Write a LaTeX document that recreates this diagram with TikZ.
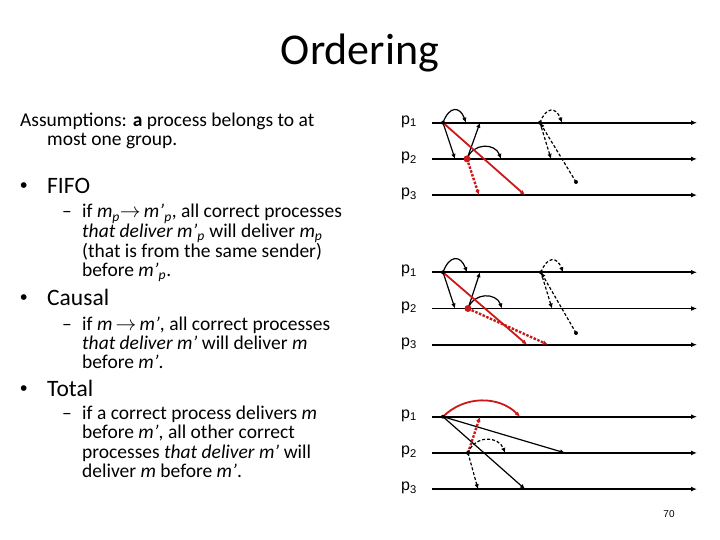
\documentclass[tikz,border=0pt]{standalone}
\usepackage{fontspec}
\setmainfont{Carlito}
\newfontfamily\plabelfont{Liberation Sans}
\usetikzlibrary{arrows.meta}
\definecolor{msgred}{RGB}{204,24,24}
\newcommand{\subp}{\textsubscript{\textit{p}}}

\tikzset{
  title/.style={anchor=base, inner sep=0pt, font=\fontsize{44}{50}\selectfont},
  body/.style={anchor=base west, inner sep=0pt, font=\fontsize{19.5}{20}\selectfont},
  head/.style={anchor=base west, inner sep=0pt, font=\fontsize{23.5}{26}\selectfont},
  bullet/.style={anchor=base west, inner sep=0pt, font=\plabelfont\fontsize{21}{22}\selectfont},
  plabel/.style={anchor=west, inner sep=0pt, font=\plabelfont\fontsize{16}{19}\selectfont},
  procline/.style={line width=1.8pt, -{Latex[length=6pt,width=5pt]}},
  msg/.style={line width=1.2pt, -{Latex[length=5pt,width=4.5pt]}},
  redmsg/.style={msg, msgred, line width=1.8pt},
  reddot/.style={msg, msgred, line width=2.4pt, dash pattern=on 2.5pt off 1.5pt},
  dashmsg/.style={msg, dash pattern=on 3pt off 2pt},
}

\begin{document}
\begin{tikzpicture}[x=1pt, y=-1pt]
    \useasboundingbox (0,0) rectangle (720,540);

    % Title
    \node[title] (title) at (360,65) {Ordering};

    % Text
    \node[body] (asm1) at (20,127) {Assumptions: \textbf{a} process belongs to at};
    \node[body] (asm2) at (47,146) {most one group.};

    \node[bullet] (fifob) at (20,193) {•};
    \node[head] (fifo) at (47,194) {FIFO};
    \node[body] (fifod) at (62,218) {--};
    \node[body] (fifo1) at (82,218) {if \textit{m}\subp$\rightarrow$\,\textit{m’}\subp, all correct processes};
    \node[body] (fifo2) at (82,237.5) {\textit{that deliver m’}\subp{} will deliver \textit{m}\subp};
    \node[body] (fifo3) at (82,257) {(that is from the same sender)};
    \node[body] (fifo4) at (82,276.5) {before \textit{m’}\subp.};

    \node[bullet] (causalb) at (20,304) {•};
    \node[head] (causal) at (47,305) {Causal};
    \node[body] (causald) at (62,330) {--};
    \node[body] (causal1) at (82,330) {if \textit{m}\,$\rightarrow$\,\textit{m’}, all correct processes};
    \node[body] (causal2) at (82,349) {\textit{that deliver m’} will deliver \textit{m}};
    \node[body] (causal3) at (82,368.5) {before \textit{m’}.};

    \node[bullet] (totalb) at (20,395) {•};
    \node[head] (total) at (47,396) {Total};
    \node[body] (totald) at (62,419) {--};
    \node[body] (total1) at (82,419) {if a correct process delivers \textit{m}};
    \node[body] (total2) at (82,438.5) {before \textit{m’}, all other correct};
    \node[body] (total3) at (82,458) {processes \textit{that deliver m’} will};
    \node[body] (total4) at (82,477.5) {deliver \textit{m} before \textit{m’}.};

    % Process lines
    \foreach \d/\top in {1/122.7, 2/272.3, 3/416.7} {
      \foreach \i in {1,2,3} {
        \pgfmathsetmacro{\py}{\top+(\i-1)*36.2}
        \node[plabel] (p\d\i) at (401,\py-1) {p\textsubscript{\i}};
        \coordinate (s\d\i) at (432,\py);
        \coordinate (e\d\i) at (697,\py);
        \draw[procline] (s\d\i) -- (e\d\i);
      }
    }

    % FIFO
    \coordinate (a1) at (443,122.7);
    \coordinate (a1loop) at (466,122.7);
    \coordinate (a1q2) at (455,158.9);
    \coordinate (a1q3) at (525,195.1);
    \coordinate (b1) at (467,158.9);
    \coordinate (b1q1) at (480,122.7);
    \coordinate (b1loop) at (501,158.9);
    \coordinate (b1q3) at (479,195.1);
    \coordinate (c1) at (540,122.7);
    \coordinate (c1loop) at (562,122.7);
    \coordinate (c1q2) at (551,158.9);
    \coordinate (d1) at (576,182);

    \draw[msg] (a1) to[out=70, in=110, looseness=2] (a1loop);
    \draw[msg] (a1) -- (a1q2);
    \draw[msg] (b1) -- (b1q1);
    \draw[msg] (b1) to[out=70, in=110, looseness=1.3] (b1loop);
    \draw[redmsg] (a1) -- (a1q3);
    \draw[reddot] (b1) -- (b1q3);
    \draw[dashmsg] (c1) to[out=70, in=110, looseness=2] (c1loop);
    \draw[dashmsg] (c1) -- (c1q2);
    \draw[dashmsg] (d1) -- (c1);
    \fill (a1) circle (2pt);
    \fill[msgred] (b1) circle (3.5pt);
    \fill (c1) circle (2pt);
    \fill (d1) circle (2pt);

    % Causal
    \coordinate (a2) at (443,272.3);
    \coordinate (a2loop) at (467,272.3);
    \coordinate (a2q2) at (455,308.5);
    \coordinate (a2q3) at (527,344.7);
    \coordinate (b2) at (468,308.5);
    \coordinate (b2q1) at (480,272.3);
    \coordinate (b2loop) at (502,308.5);
    \coordinate (b2q3) at (548,344.7);
    \coordinate (c2) at (541,272.3);
    \coordinate (c2loop) at (563,272.3);
    \coordinate (c2q2) at (552,308.5);
    \coordinate (d2) at (576,333);

    \draw[msg] (a2) to[out=70, in=110, looseness=2] (a2loop);
    \draw[msg] (a2) -- (a2q2);
    \draw[msg] (b2) -- (b2q1);
    \draw[msg] (b2) to[out=70, in=110, looseness=1.3] (b2loop);
    \draw[redmsg] (a2) -- (a2q3);
    \draw[reddot] (b2) -- (b2q3);
    \draw[dashmsg] (c2) to[out=70, in=110, looseness=2] (c2loop);
    \draw[dashmsg] (c2) -- (c2q2);
    \draw[dashmsg] (d2) -- (c2);
    \fill (a2) circle (2pt);
    \fill[msgred] (b2) circle (3.5pt);
    \fill (c2) circle (2pt);
    \fill (d2) circle (2pt);

    % Total
    \coordinate (a3) at (443,416.7);
    \coordinate (a3loop) at (520,416.7);
    \coordinate (a3q2) at (565,452.9);
    \coordinate (a3q3) at (525,489.1);
    \coordinate (b3) at (468,452.9);
    \coordinate (b3q1) at (480,416.7);
    \coordinate (b3loop) at (505,452.9);
    \coordinate (b3q3) at (478,489.1);

    \draw[redmsg] (a3) to[out=45, in=135] (a3loop);
    \draw[msg] (a3) -- (a3q2);
    \draw[msg] (a3) -- (a3q3);
    \draw[reddot] (b3) -- (b3q1);
    \draw[dashmsg] (b3) to[out=70, in=110, looseness=1.3] (b3loop);
    \draw[dashmsg] (b3) -- (b3q3);
    \fill (a3) circle (2pt);
    \fill (b3) circle (2pt);

    % Page number
    \node[font=\plabelfont\fontsize{10}{12}\selectfont] (pagenum) at (669,514) {70};
\end{tikzpicture}
\end{document}
